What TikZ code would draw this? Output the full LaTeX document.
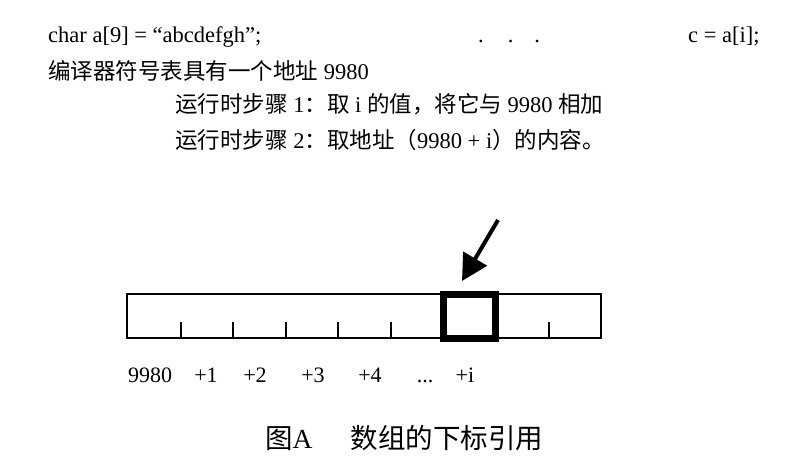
\documentclass[tikz,border=0pt]{standalone}
\usepackage{fontspec}
\setmainfont{Liberation Serif}
\newfontfamily\cjk{Noto Sans CJK SC}
\usetikzlibrary{arrows.meta}
\begin{document}
\begin{tikzpicture}[x=1pt,y=-1pt,
  txt/.style={anchor=base west, inner sep=0pt, font=\fontsize{22.5}{27}\selectfont},
  lbl/.style={anchor=base, inner sep=0pt, font=\fontsize{22}{26}\selectfont},
  captxt/.style={anchor=base west, inner sep=0pt, font=\fontsize{27.5}{32}\selectfont},
  bar/.style={line width=1.5pt},
  tickline/.style={line width=1.4pt},
  hilite/.style={draw, line width=7pt, minimum width=52pt, minimum height=44pt, inner sep=0pt},
  pointer/.style={line width=4pt, -{Triangle[length=26pt,width=27pt]}}
]
\fill[white] (0,0) rectangle (793,466);
\useasboundingbox (0,0) rectangle (793,466);

% top text
\node[txt] (decl) at (48,42) {char a[9] = “abcdefgh”;};
\node[txt] (dots) at (478,42) {.\hspace{24pt}.\hspace{21pt}.};
\node[txt] (assign) at (688,42) {c = a[i];};
\node[txt] (symtab) at (48,79) {{\cjk 编译器符号表具有一个地址} 9980};
\node[txt] (step1) at (175,112) {{\cjk 运行时步骤} 1{\cjk ：取} i {\cjk 的值，将它与} 9980 {\cjk 相加}};
\node[txt] (step2) at (175,148) {{\cjk 运行时步骤} 2{\cjk ：取地址（}9980 + i{\cjk ）的内容。}};

% array bar
\draw[bar] (127,294) rectangle (601,338);
\foreach \x in {181,233,286,338,391,549}
  \draw[tickline] (\x,322) -- (\x,338);
\node[hilite] (cell) at (469,316) {};

% pointer arrow
\coordinate (arrowstart) at (498,220);
\coordinate (arrowtip) at (462,281);
\draw[pointer] (arrowstart) -- (arrowtip);

% labels
\node[lbl] (l0) at (150,382) {9980};
\node[lbl] (l1) at (206,382) {+1};
\node[lbl] (l2) at (255,382) {+2};
\node[lbl] (l3) at (313,382) {+3};
\node[lbl] (l4) at (370,382) {+4};
\node[lbl] (ld) at (425,382) {...};
\node[lbl] (li) at (465,382) {+i};

% caption
\node[captxt] (caption) at (265,448) {{\cjk 图}A\hspace{38pt}{\cjk 数组的下标引用}};
\end{tikzpicture}
\end{document}
